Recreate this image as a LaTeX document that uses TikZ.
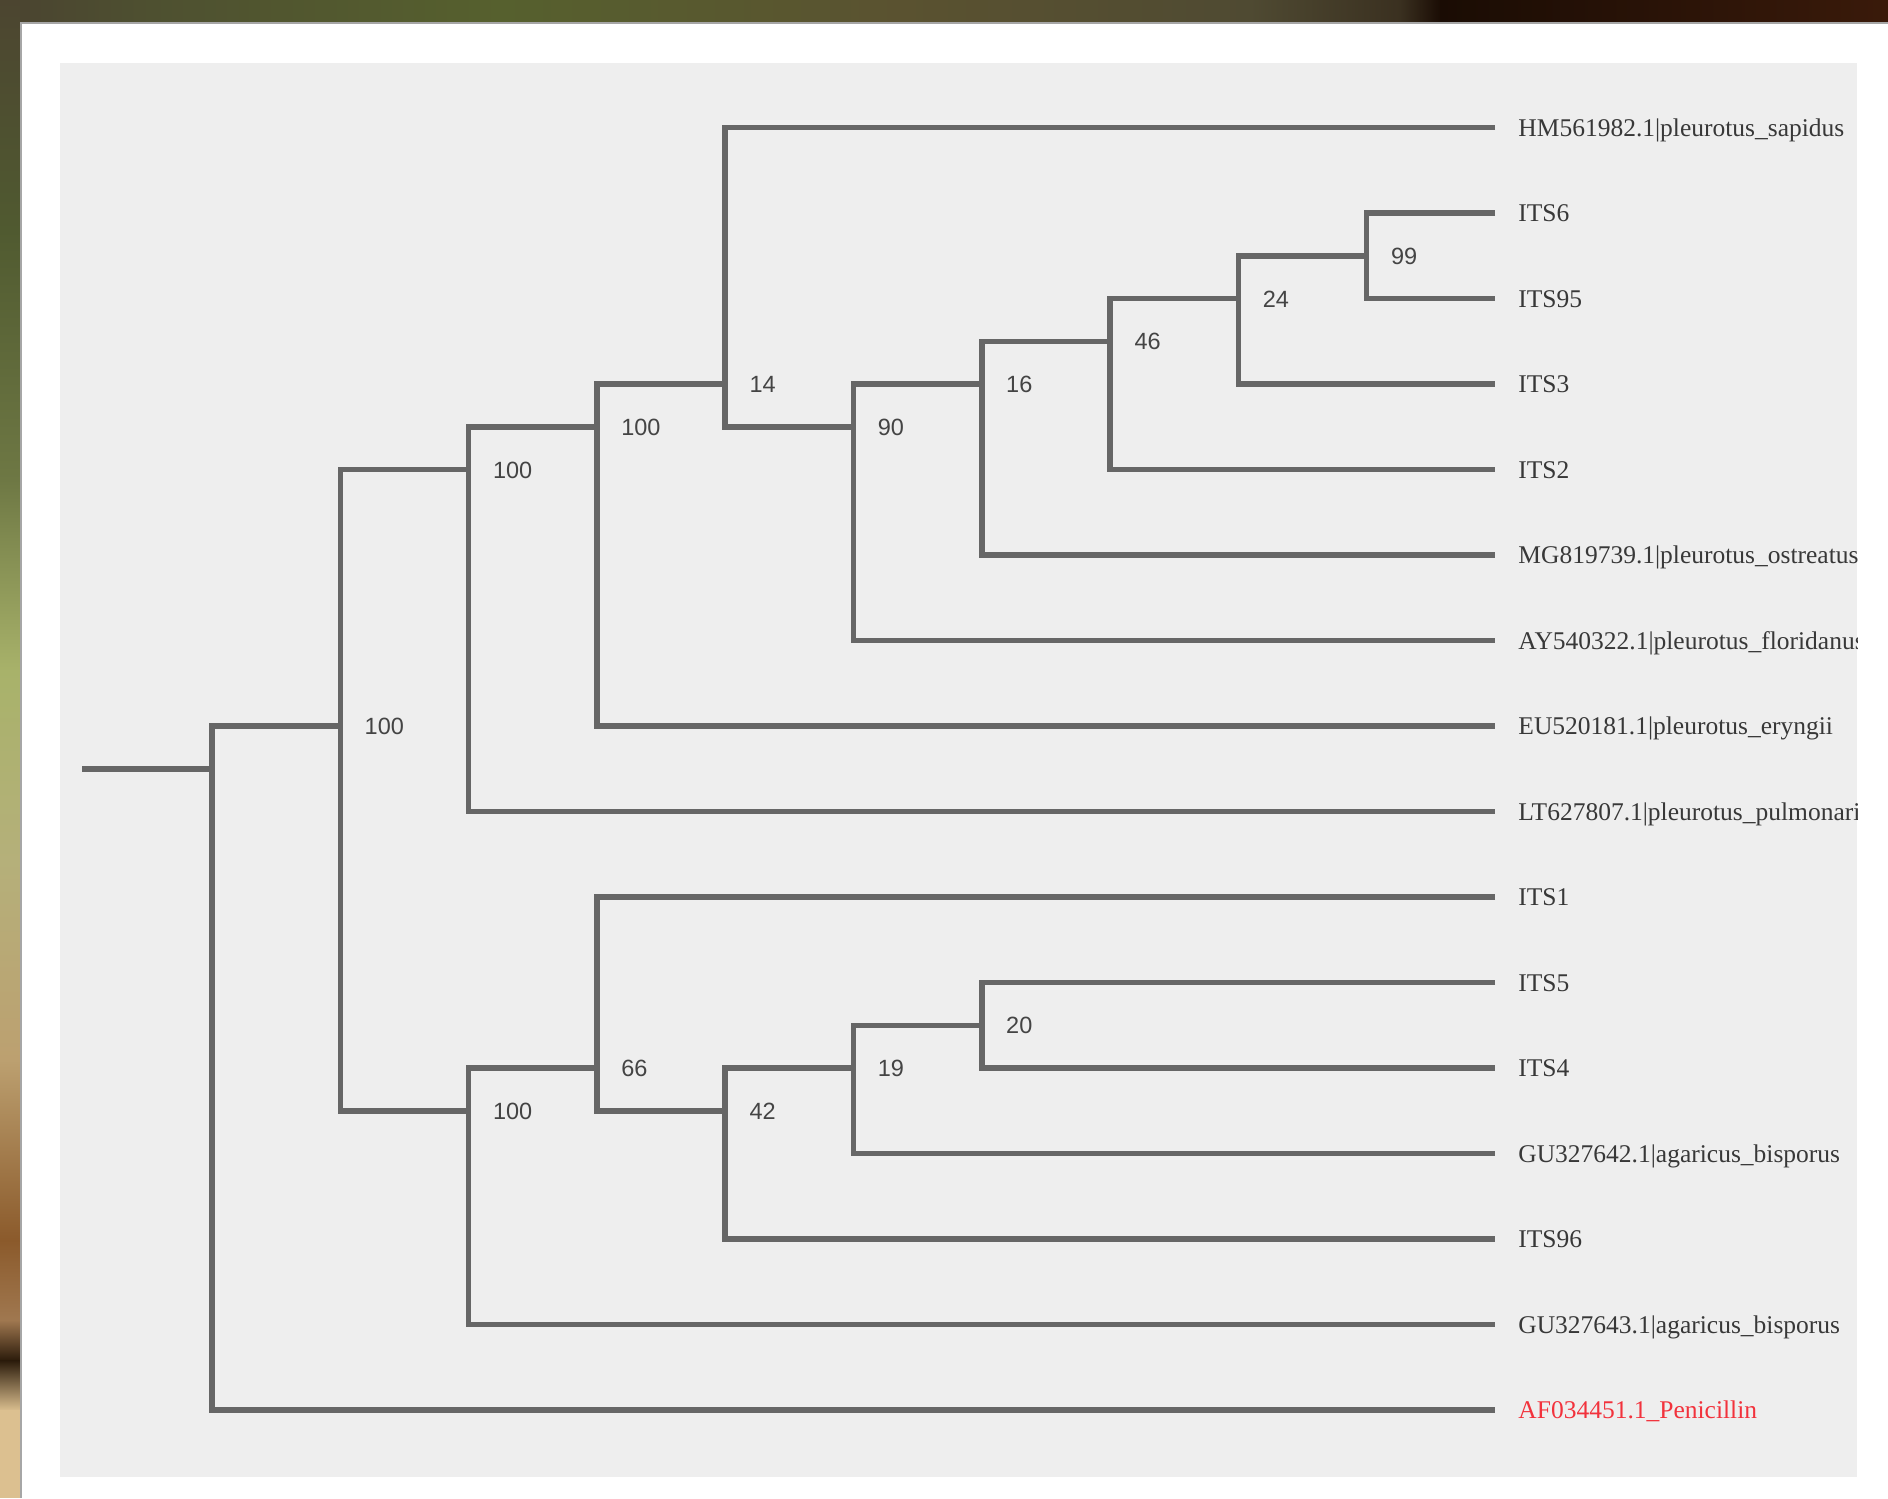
\documentclass[tikz,border=0pt]{standalone}
\usepackage{fontspec}
\newfontfamily\leaffont{Liberation Serif}
\newfontfamily\bsfont{Liberation Sans}
\definecolor{panelgray}{HTML}{EEEEEE}
\definecolor{branchgray}{HTML}{666666}
\definecolor{leafgray}{HTML}{383838}
\definecolor{bsgray}{HTML}{444444}
\definecolor{outred}{HTML}{F2323C}
% photo strip tones
\definecolor{ph1}{RGB}{74,67,48}
\definecolor{ph2}{RGB}{78,80,48}
\definecolor{ph3}{RGB}{86,96,46}
\definecolor{ph4}{RGB}{90,82,48}
\definecolor{ph5}{RGB}{79,74,50}
\definecolor{ph6}{RGB}{58,48,32}
\definecolor{ph7}{RGB}{26,12,4}
\definecolor{ph8}{RGB}{58,26,10}
\definecolor{pv1}{RGB}{76,69,48}
\definecolor{pv2}{RGB}{80,90,48}
\definecolor{pv3}{RGB}{110,120,68}
\definecolor{pv4}{RGB}{168,178,106}
\definecolor{pv5}{RGB}{181,176,122}
\definecolor{pv6}{RGB}{188,160,112}
\definecolor{pv7}{RGB}{139,90,43}
\definecolor{pv8}{RGB}{160,120,80}
\definecolor{pv9}{RGB}{42,26,10}
\definecolor{pv10}{RGB}{220,192,144}
\begin{document}
\begin{tikzpicture}[x=0.5pt,y=-0.5pt,
  branch/.style={draw=branchgray,line width=2.75pt,line join=miter},
  leaflabel/.style={anchor=base west,inner sep=0pt,xshift=11.5pt,yshift=-4.3pt,
    text=leafgray,font=\leaffont\fontsize{12.75pt}{15pt}\selectfont},
  bslabel/.style={anchor=base west,inner sep=0pt,xshift=12pt,yshift=-4.2pt,
    text=bsgray,font=\bsfont\fontsize{11.75pt}{14pt}\selectfont}]
\useasboundingbox (0,0) rectangle (1888,1498);

% photo strip along the top edge
\shade[left color=ph1,right color=ph2] (0,0) rectangle (151,22);
\shade[left color=ph2,right color=ph3] (150,0) rectangle (501,22);
\shade[left color=ph3,right color=ph4] (500,0) rectangle (901,22);
\shade[left color=ph4,right color=ph5] (900,0) rectangle (1251,22);
\shade[left color=ph5,right color=ph6] (1250,0) rectangle (1401,22);
\shade[left color=ph6,right color=ph7] (1400,0) rectangle (1441,22);
\shade[left color=ph7,right color=ph8] (1440,0) rectangle (1888,22);

% photo strip along the left edge
\shade[top color=pv1,bottom color=pv2] (0,0) rectangle (20,231);
\shade[top color=pv2,bottom color=pv3] (0,230) rectangle (20,481);
\shade[top color=pv3,bottom color=pv4] (0,480) rectangle (20,671);
\shade[top color=pv4,bottom color=pv5] (0,670) rectangle (20,861);
\shade[top color=pv5,bottom color=pv6] (0,860) rectangle (20,1061);
\shade[top color=pv6,bottom color=pv7] (0,1060) rectangle (20,1241);
\shade[top color=pv7,bottom color=pv8] (0,1240) rectangle (20,1321);
\shade[top color=pv8,bottom color=pv9] (0,1320) rectangle (20,1361);
\shade[top color=pv9,bottom color=pv10] (0,1360) rectangle (20,1411);
\fill[pv10] (0,1410) rectangle (20,1498);

% white sheet with its faint edge, and the grey plot panel
\fill[white] (20,22) rectangle (1888,1498);
\draw[black!35,line width=0.8pt] (21,1498) -- (21,23) -- (1888,23);
\fill[panelgray] (60,63) rectangle (1857,1477);

% leaf tips
\coordinate (t0)  at (1495,127.6);
\coordinate (t1)  at (1495,213.1);
\coordinate (t2)  at (1495,298.6);
\coordinate (t3)  at (1495,384.1);
\coordinate (t4)  at (1495,469.6);
\coordinate (t5)  at (1495,555.1);
\coordinate (t6)  at (1495,640.6);
\coordinate (t7)  at (1495,726.1);
\coordinate (t8)  at (1495,811.6);
\coordinate (t9)  at (1495,897.1);
\coordinate (t10) at (1495,982.6);
\coordinate (t11) at (1495,1068.1);
\coordinate (t12) at (1495,1153.6);
\coordinate (t13) at (1495,1239.1);
\coordinate (t14) at (1495,1324.6);
\coordinate (t15) at (1495,1410.1);

% internal nodes
\coordinate (R) at (212,768.85);
\coordinate (A) at (340.3,726.1);
\coordinate (B) at (468.6,469.6);
\coordinate (D) at (596.9,426.85);
\coordinate (E) at (725.2,384.1);
\coordinate (F) at (853.5,426.85);
\coordinate (G) at (981.8,384.1);
\coordinate (H) at (1110.1,341.35);
\coordinate (I) at (1238.4,298.6);
\coordinate (J) at (1366.7,255.85);
\coordinate (C) at (468.6,1110.85);
\coordinate (K) at (596.9,1068.1);
\coordinate (L) at (725.2,1110.85);
\coordinate (M) at (853.5,1068.1);
\coordinate (N) at (981.8,1025.35);
\coordinate (root) at (82,768.85);

% branches
\draw[branch] (root) -- (R);
\draw[branch] (A) -| (R) |- (t15);
\draw[branch] (B) -| (A) |- (C);
\draw[branch] (D) -| (B) |- (t8);
\draw[branch] (E) -| (D) |- (t7);
\draw[branch] (t0) -| (E) |- (F);
\draw[branch] (G) -| (F) |- (t6);
\draw[branch] (H) -| (G) |- (t5);
\draw[branch] (I) -| (H) |- (t4);
\draw[branch] (J) -| (I) |- (t3);
\draw[branch] (t1) -| (J) |- (t2);
\draw[branch] (K) -| (C) |- (t14);
\draw[branch] (t9) -| (K) |- (L);
\draw[branch] (M) -| (L) |- (t13);
\draw[branch] (N) -| (M) |- (t12);
\draw[branch] (t10) -| (N) |- (t11);

% bootstrap support values
\node[bslabel] (sA) at (A) {100};
\node[bslabel] (sB) at (B) {100};
\node[bslabel] (sD) at (D) {100};
\node[bslabel] (sE) at (E) {14};
\node[bslabel] (sF) at (F) {90};
\node[bslabel] (sG) at (G) {16};
\node[bslabel] (sH) at (H) {46};
\node[bslabel] (sI) at (I) {24};
\node[bslabel] (sJ) at (J) {99};
\node[bslabel] (sC) at (C) {100};
\node[bslabel] (sK) at (K) {66};
\node[bslabel] (sL) at (L) {42};
\node[bslabel] (sM) at (M) {19};
\node[bslabel] (sN) at (N) {20};

% taxon names, cut off at the panel edge
\begin{scope}
\clip (60,63) rectangle (1857,1477);
\node[leaflabel] (n0)  at (t0)  {HM561982.1|pleurotus\_sapidus};
\node[leaflabel] (n1)  at (t1)  {ITS6};
\node[leaflabel] (n2)  at (t2)  {ITS95};
\node[leaflabel] (n3)  at (t3)  {ITS3};
\node[leaflabel] (n4)  at (t4)  {ITS2};
\node[leaflabel] (n5)  at (t5)  {MG819739.1|pleurotus\_ostreatus};
\node[leaflabel] (n6)  at (t6)  {AY540322.1|pleurotus\_floridanus};
\node[leaflabel] (n7)  at (t7)  {EU520181.1|pleurotus\_eryngii};
\node[leaflabel] (n8)  at (t8)  {LT627807.1|pleurotus\_pulmonarius};
\node[leaflabel] (n9)  at (t9)  {ITS1};
\node[leaflabel] (n10) at (t10) {ITS5};
\node[leaflabel] (n11) at (t11) {ITS4};
\node[leaflabel] (n12) at (t12) {GU327642.1|agaricus\_bisporus};
\node[leaflabel] (n13) at (t13) {ITS96};
\node[leaflabel] (n14) at (t14) {GU327643.1|agaricus\_bisporus};
\node[leaflabel,text=outred] (n15) at (t15) {AF034451.1\_Penicillin};
\end{scope}
\end{tikzpicture}
\end{document}
